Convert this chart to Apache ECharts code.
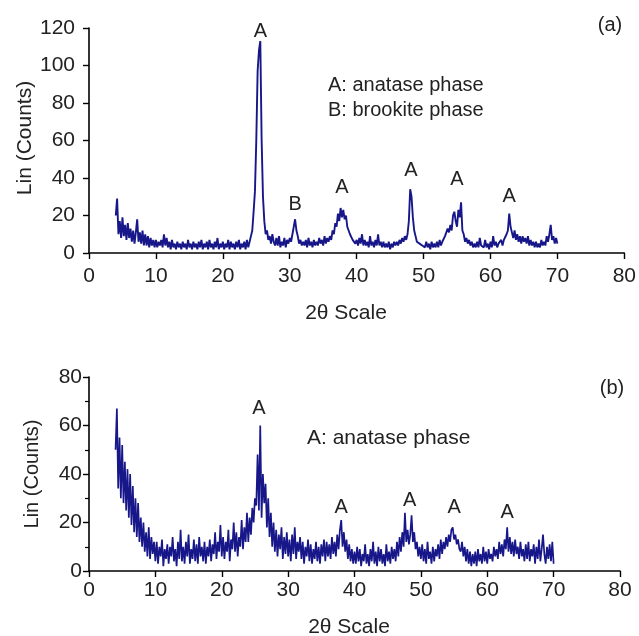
<!DOCTYPE html>
<html>
<head>
<meta charset="utf-8">
<script src="https://cdn.jsdelivr.net/npm/echarts@6/dist/echarts.min.js"></script>
<style>
html,body{margin:0;padding:0;background:#fff;}
#c{width:639px;height:636px;}
</style>
</head>
<body>
<div id="c"></div>
<script>
// sampling grid of the diffractograms (2θ, degrees)
const X_START = 4.0;
const X_STEP = 0.2;

// tick labels
const xTicks = [0, 10, 20, 30, 40, 50, 60, 70, 80];
const yTicksA = [0, 20, 40, 60, 80, 100, 120];
const yTicksB = [0, 20, 40, 60, 80];

// (a) intensities, 2θ = 4.0 ... 70.0 step 0.2 (rows of 2°)
const countsA = [
  20, 29, 10, 17, 8, 19, 9, 15, 7, 16,
  8, 13, 6, 12, 5, 11, 18, 6, 11, 5,
  12, 4, 10, 4, 9, 3, 8, 4, 7, 3,
  7, 3, 6, 4, 7, 3, 10, 4, 8, 3,
  6, 2, 7, 3, 5, 2, 6, 3, 5, 2,
  6, 3, 5, 2, 7, 3, 5, 2, 6, 3,
  5, 2, 6, 3, 7, 2, 5, 3, 6, 2,
  7, 3, 5, 2, 6, 3, 8, 2, 5, 3,
  6, 2, 5, 3, 7, 2, 6, 3, 5, 2,
  6, 3, 7, 2, 5, 3, 6, 2, 7, 3,
  6, 9, 12, 22, 33, 60, 97, 108, 113, 60,
  30, 17, 10, 12, 7, 9, 5, 10, 6, 4,
  8, 4, 9, 3, 6, 4, 8, 3, 7, 5,
  8, 6, 10, 14, 18, 12, 9, 5, 7, 4,
  6, 4, 7, 3, 8, 4, 6, 3, 7, 4,
  6, 4, 8, 5, 7, 4, 9, 5, 8, 6,
  9, 7, 12, 10, 16, 14, 21, 17, 24, 19,
  23, 18, 20, 14, 15, 10, 11, 7, 8, 5,
  7, 4, 8, 5, 10, 4, 7, 4, 6, 3,
  9, 4, 6, 3, 7, 4, 10, 4, 6, 3,
  6, 3, 5, 3, 6, 2, 5, 3, 6, 4,
  6, 4, 7, 5, 8, 6, 9, 7, 10, 17,
  34, 30, 19, 12, 9, 6, 7, 5, 6, 4,
  5, 3, 6, 3, 5, 2, 6, 3, 5, 3,
  6, 3, 7, 4, 6, 5, 9, 8, 13, 11,
  15, 12, 20, 22, 17, 14, 23, 19, 27, 12,
  10, 6, 8, 5, 7, 4, 6, 3, 5, 3,
  6, 3, 8, 4, 5, 3, 7, 3, 5, 2,
  6, 3, 9, 4, 6, 3, 5, 4, 7, 4,
  7, 6, 10, 12, 21, 14, 11, 8, 12, 7,
  10, 6, 9, 5, 9, 6, 8, 5, 9, 4,
  7, 4, 6, 3, 6, 3, 5, 3, 7, 4,
  6, 4, 9, 6, 10, 15, 7, 9, 5, 8,
  5
];

// (b) intensities, same 2θ grid
const countsB = [
  50, 67, 34, 55, 30, 52, 28, 45, 25, 42,
  22, 40, 19, 35, 16, 30, 14, 28, 12, 22,
  10, 20, 8, 16, 6, 18, 5, 14, 7, 12,
  4, 12, 3, 10, 6, 13, 2, 9, 5, 11,
  3, 10, 6, 14, 4, 9, 2, 12, 5, 17,
  4, 10, 3, 12, 6, 15, 3, 9, 5, 13,
  4, 11, 3, 14, 6, 10, 4, 12, 3, 10,
  6, 13, 4, 11, 7, 16, 5, 12, 8, 19,
  6, 14, 5, 12, 8, 17, 4, 13, 9, 20,
  8, 16, 6, 14, 10, 21, 9, 18, 12, 24,
  12, 22, 15, 26, 20, 30, 27, 48, 25, 60,
  22, 40, 28, 36, 18, 30, 14, 24, 10, 20,
  8, 17, 6, 15, 9, 18, 5, 14, 7, 16,
  6, 13, 4, 15, 7, 18, 5, 12, 8, 14,
  5, 12, 3, 10, 6, 13, 4, 11, 3, 9,
  5, 12, 4, 10, 3, 11, 6, 13, 4, 12,
  6, 11, 5, 14, 7, 12, 6, 15, 9, 17,
  21, 10, 16, 8, 13, 5, 11, 4, 9, 3,
  8, 3, 10, 4, 9, 2, 7, 4, 11, 3,
  7, 2, 9, 4, 12, 3, 8, 2, 10, 4,
  9, 3, 7, 2, 11, 4, 8, 3, 10, 5,
  9, 4, 12, 6, 14, 8, 16, 10, 24, 12,
  17, 11, 15, 23, 12, 16, 9, 12, 6, 10,
  5, 11, 4, 9, 3, 12, 5, 8, 3, 10,
  4, 9, 6, 11, 5, 13, 7, 12, 9, 14,
  10, 15, 12, 17, 18, 13, 15, 11, 13, 9,
  8, 12, 6, 10, 4, 9, 3, 8, 2, 7,
  3, 8, 2, 9, 4, 7, 3, 10, 4, 8,
  3, 9, 5, 7, 4, 10, 6, 9, 5, 12,
  7, 11, 6, 13, 9, 18, 8, 14, 7, 12,
  6, 13, 7, 10, 5, 12, 6, 9, 4, 11,
  5, 12, 4, 9, 6, 11, 3, 10, 5, 13,
  4, 9, 15, 7, 3, 10, 5, 11, 4, 12,
  3
];

// peak labels: [2θ, text]
const peaksA = [[25.6, 'A'], [30.8, 'B'], [37.8, 'A'], [48.1, 'A'], [55.0, 'A'], [62.8, 'A']];
const peaksB = [[25.6, 'A'], [38.0, 'A'], [48.3, 'A'], [55.0, 'A'], [63.0, 'A']];

const toPairs = arr => arr.map((v, i) => [+(X_START + i * X_STEP).toFixed(2), v]);

const FONT = '"Liberation Sans", Arial, sans-serif';
const TXT = '#222';
const LINE = '#17178a';

function xAxisCfg(gridIndex, margin) {
  return {
    type: 'value', gridIndex,
    min: xTicks[0], max: xTicks[xTicks.length - 1], interval: xTicks[1] - xTicks[0],
    axisLine: { show: true, onZero: false, lineStyle: { color: '#000', width: 1.6 } },
    axisTick: { show: true, inside: false, length: 6, lineStyle: { color: '#000', width: 1.4 } },
    axisLabel: { color: TXT, fontSize: 21, fontFamily: FONT, margin, showMinLabel: true, showMaxLabel: true },
    splitLine: { show: false }
  };
}
function yAxisCfg(gridIndex, ticks, margin, minor) {
  return {
    type: 'value', gridIndex,
    min: ticks[0], max: ticks[ticks.length - 1], interval: ticks[1] - ticks[0],
    axisLine: { show: true, lineStyle: { color: '#000', width: 1.6 } },
    axisTick: { show: true, inside: false, length: 6, lineStyle: { color: '#000', width: 1.4 } },
    minorTick: { show: minor, splitNumber: 2, length: 4, lineStyle: { color: '#000', width: 1.2 } },
    axisLabel: { color: TXT, fontSize: 21, fontFamily: FONT, margin },
    splitLine: { show: false }
  };
}

const chart = echarts.init(document.getElementById('c'), null, { renderer: 'canvas' });

const grids = [
  { left: 89, top: 28, width: 539, height: 225 },
  { left: 89, top: 377, width: 531, height: 194 }
];

function txt(x, y, text, size, extra) {
  return Object.assign({
    type: 'text', x, y, silent: true,
    style: { text, fill: TXT, font: size + 'px ' + FONT, align: 'center', verticalAlign: 'middle' }
  }, extra || {});
}

const option = {
  animation: false,
  backgroundColor: '#fff',
  grid: grids,
  xAxis: [xAxisCfg(0, 13), xAxisCfg(1, 9)],
  yAxis: [yAxisCfg(0, yTicksA, 14, false), yAxisCfg(1, yTicksB, 7, true)],
  series: [
    {
      type: 'line', xAxisIndex: 0, yAxisIndex: 0, data: toPairs(countsA),
      showSymbol: false, symbol: 'none', lineStyle: { color: LINE, width: 1.9 }
    },
    {
      type: 'line', xAxisIndex: 1, yAxisIndex: 1, data: toPairs(countsB),
      showSymbol: false, symbol: 'none', lineStyle: { color: LINE, width: 1.7 }
    }
  ]
};
chart.setOption(option);

// annotations positioned with the chart's own coordinate conversion
const g = [];
const labelPosA = [[25.6, 118], [30.8, 26], [37.8, 35], [48.1, 44], [55.0, 39], [62.8, 30]];
const labelPosB = [[25.6, 67], [38.0, 26], [48.3, 29], [55.0, 26], [63.0, 24]];
peaksA.forEach((p, i) => {
  const pt = chart.convertToPixel({ gridIndex: 0 }, labelPosA[i]);
  g.push(txt(pt[0], pt[1], p[1], 20));
});
peaksB.forEach((p, i) => {
  const pt = chart.convertToPixel({ gridIndex: 1 }, labelPosB[i]);
  g.push(txt(pt[0], pt[1], p[1], 20));
});
g.push(txt(610, 25, '(a)', 20));
g.push(txt(612, 388, '(b)', 20));
g.push(txt(328, 85, 'A: anatase phase', 20));
g[g.length - 1].style.align = 'left';
g.push(txt(328, 110, 'B: brookite phase', 20));
g[g.length - 1].style.align = 'left';
g.push(txt(307, 438, 'A: anatase phase', 21));
g[g.length - 1].style.align = 'left';
g.push(txt(346, 313, '2θ Scale', 21));
g.push(txt(349, 627, '2θ Scale', 21));
g.push(txt(25, 138, 'Lin (Counts)', 21, { rotation: Math.PI / 2 }));
g.push(txt(32, 474, 'Lin (Counts)', 20, { rotation: Math.PI / 2 }));
chart.setOption({ graphic: { elements: g } });
</script>
</body>
</html>
